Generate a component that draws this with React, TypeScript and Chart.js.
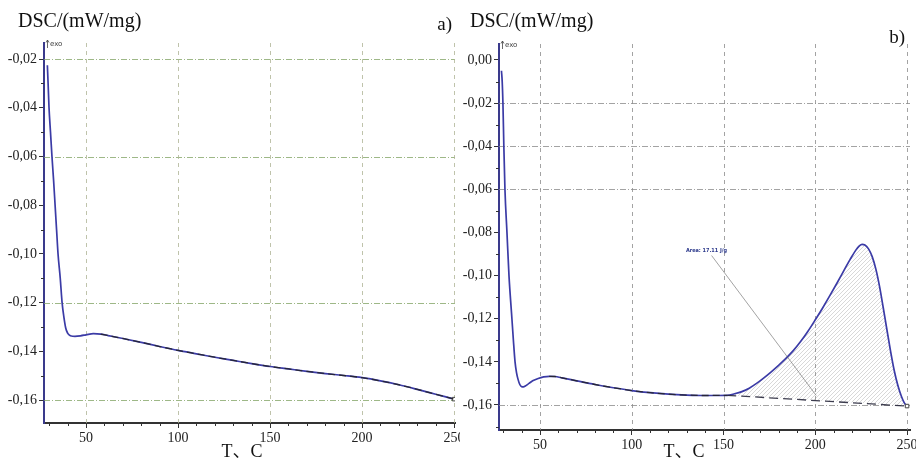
import React, { useEffect, useRef } from 'react';
import { Chart, registerables } from 'chart.js';

Chart.register(...registerables);

// ---------- data ----------
const TEMP_A = [29, 29.4, 29.9, 30.7, 31.5, 32.4, 33.2, 34, 34.8, 36, 37, 38, 39, 40, 41, 42, 44, 47, 50, 54, 58, 62, 70, 80, 90, 100, 110, 120, 130, 140, 150, 160, 170, 180, 190, 200, 210, 220, 230, 240, 250];
const DSC_A = [-0.0225, -0.03, -0.04, -0.05, -0.06, -0.07, -0.08, -0.09, -0.1, -0.11, -0.12, -0.126, -0.1305, -0.1325, -0.1333, -0.1337, -0.1338, -0.1336, -0.1332, -0.1327, -0.1329, -0.1335, -0.1347, -0.1363, -0.138, -0.1396, -0.141, -0.1424, -0.1437, -0.145, -0.1462, -0.1472, -0.1482, -0.1491, -0.1499, -0.1508, -0.1521, -0.1537, -0.1556, -0.1576, -0.1596];

const TEMP_B = [29, 29.4, 29.8, 30.3, 30.9, 32, 33.1, 34.7, 35.5, 36.4, 37.2, 38, 39, 40, 41, 42, 44, 46, 49, 52, 55, 58, 62, 70, 80, 90, 100, 110, 120, 130, 140, 152, 156, 160, 164, 168, 172, 176, 180, 184, 188, 192, 196, 200, 204, 208, 212, 216, 219, 222, 224, 225.5, 227, 229, 231, 233, 235, 237, 239, 241, 243, 245, 247, 248.5, 250];
const DSC_B = [-0.005, -0.01, -0.02, -0.04, -0.06, -0.08, -0.1, -0.12, -0.13, -0.14, -0.145, -0.148, -0.1505, -0.1515, -0.1516, -0.1512, -0.15, -0.1488, -0.1477, -0.147, -0.1467, -0.1468, -0.1474, -0.1488, -0.1505, -0.152, -0.1533, -0.1543, -0.155, -0.1554, -0.1556, -0.1555, -0.1548, -0.1538, -0.1522, -0.15, -0.1474, -0.1446, -0.1416, -0.1384, -0.1348, -0.1306, -0.1258, -0.1205, -0.115, -0.1092, -0.1032, -0.097, -0.0925, -0.0883, -0.0862, -0.0855, -0.0858, -0.0876, -0.0912, -0.097, -0.105, -0.1148, -0.125, -0.135, -0.144, -0.151, -0.1562, -0.159, -0.1605];

const BASE_TEMP_B = [152, 250];
const BASE_DSC_B = [-0.1555, -0.1605];

const X_GRID = [50, 100, 150, 200, 250];
const Y_GRID_A = [-0.02, -0.06, -0.12, -0.16];
const Y_GRID_B = [-0.02, -0.04, -0.06, -0.16];

const AREA_LABEL = 'Area: 17.11 J/g';
const AREA_LABEL_T = 129.5;
const AREA_LABEL_DSC = -0.0885;
const AREA_LEADER_T = [143.5, 200.5];
const AREA_LEADER_DSC = [-0.0907, -0.1556];

const Y_TITLE = 'DSC/(mW/mg)';
const X_TITLE = 'T、C';

const SERIF = '"Liberation Serif", "Times New Roman", "DejaVu Serif", "Noto Sans CJK SC", serif';

type PanelCfg = {
  temps: number[];
  dsc: number[];
  xMin: number; xMax: number; yMin: number; yMax: number;
  padTop: number; padRight: number; yWidth: number; xHeight: number;
  yGrid: number[]; hGridColor: string; vGridColor: string;
  letter: string; letterX: number; letterY: number;
  titleX: number; xTitleX: number;
  overlayFrom: number; overlayTo: number;
  peak: boolean;
};

function toPts(xs: number[], ys: number[]) {
  return xs.map((x, i) => ({ x, y: ys[i] }));
}

function makeHatch(): CanvasPattern | string {
  const c = document.createElement('canvas');
  c.width = 4; c.height = 4;
  const g = c.getContext('2d');
  if (!g) return 'rgba(120,120,120,0.25)';
  g.strokeStyle = 'rgba(110,110,110,0.45)';
  g.lineWidth = 0.6;
  g.beginPath();
  g.moveTo(0, 4); g.lineTo(4, 0);
  g.moveTo(-1, 1); g.lineTo(1, -1);
  g.moveTo(3, 5); g.lineTo(5, 3);
  g.stroke();
  return g.createPattern(c, 'repeat') || 'rgba(120,120,120,0.25)';
}

function buildChart(canvas: HTMLCanvasElement, p: PanelCfg) {
  const mainPts = toPts(p.temps, p.dsc);
  const overlayPts = mainPts.filter((pt) => pt.x >= p.overlayFrom && pt.x <= p.overlayTo);
  const lastIdx = mainPts.length - 1;

  const datasets: any[] = [
    {
      data: mainPts,
      borderColor: '#3b3ba6',
      borderWidth: 1.7,
      cubicInterpolationMode: 'monotone',
      pointRadius: (ctx: any) => (ctx.dataIndex === lastIdx ? 2.5 : 0),
      pointStyle: 'rect',
      pointBackgroundColor: '#ffffff',
      pointBorderColor: '#444',
      pointBorderWidth: 1,
      fill: p.peak ? { target: 2, above: makeHatch(), below: 'rgba(0,0,0,0)' } : false,
      order: 2,
    },
    {
      data: overlayPts,
      borderColor: 'rgba(35,35,35,0.85)',
      borderWidth: 1.3,
      borderDash: [7, 4],
      cubicInterpolationMode: 'monotone',
      pointRadius: 0,
      fill: false,
      order: 1,
    },
  ];
  if (p.peak) {
    datasets.push({
      data: toPts(BASE_TEMP_B, BASE_DSC_B),
      borderColor: 'rgba(40,40,60,0.9)',
      borderWidth: 1.3,
      borderDash: [9, 5],
      pointRadius: 0,
      fill: false,
      order: 1,
    });
  }

  const decor = {
    id: 'decor',
    beforeDatasetsDraw(chart: any) {
      const { ctx, chartArea: a, scales } = chart;
      const xs = scales.x, ys = scales.y;
      ctx.save();
      ctx.beginPath();
      ctx.rect(a.left, a.top - 1, a.right - a.left + 1, a.bottom - a.top + 2);
      ctx.clip();
      ctx.strokeStyle = p.hGridColor;
      ctx.lineWidth = 1;
      ctx.setLineDash([6, 2, 1, 2]);
      p.yGrid.forEach((v) => {
        const y = Math.round(ys.getPixelForValue(v)) + 0.5;
        ctx.beginPath(); ctx.moveTo(a.left, y); ctx.lineTo(a.right, y); ctx.stroke();
      });
      ctx.strokeStyle = p.vGridColor;
      ctx.setLineDash([4, 4]);
      X_GRID.forEach((v) => {
        const x = Math.round(xs.getPixelForValue(v)) + 0.5;
        ctx.beginPath(); ctx.moveTo(x, a.top); ctx.lineTo(x, a.bottom); ctx.stroke();
      });
      ctx.restore();

      ctx.save();
      ctx.strokeStyle = '#333';
      ctx.lineWidth = 1;
      for (let k = Math.ceil(p.yMin / 0.01); k <= Math.floor(p.yMax / 0.01); k++) {
        if (k % 2 === 0) continue;
        const y = Math.round(ys.getPixelForValue(k * 0.01)) + 0.5;
        ctx.beginPath(); ctx.moveTo(a.left - 3, y); ctx.lineTo(a.left, y); ctx.stroke();
      }
      for (let k = Math.ceil(p.xMin / 10); k <= Math.floor(p.xMax / 10); k++) {
        if (k % 5 === 0) continue;
        const x = Math.round(xs.getPixelForValue(k * 10)) + 0.5;
        ctx.beginPath(); ctx.moveTo(x, a.bottom); ctx.lineTo(x, a.bottom + 3); ctx.stroke();
      }
      ctx.restore();
    },
    afterDraw(chart: any) {
      const { ctx, chartArea: a, scales } = chart;
      const xs = scales.x, ys = scales.y;
      ctx.save();
      ctx.fillStyle = '#111';
      ctx.textBaseline = 'middle';
      ctx.font = `20px ${SERIF}`;
      ctx.textAlign = 'left';
      ctx.fillText(Y_TITLE, p.titleX, 22);
      ctx.font = `19px ${SERIF}`;
      ctx.textAlign = 'right';
      ctx.fillText(p.letter, p.letterX, p.letterY);
      ctx.font = `18px ${SERIF}`;
      ctx.textAlign = 'center';
      ctx.fillText(X_TITLE, p.xTitleX, 452);

      const ex = a.left + 3.5;
      ctx.strokeStyle = '#444';
      ctx.lineWidth = 0.8;
      ctx.beginPath();
      ctx.moveTo(ex, a.top + 5); ctx.lineTo(ex, a.top - 3);
      ctx.moveTo(ex - 1.5, a.top - 0.5); ctx.lineTo(ex, a.top - 3); ctx.lineTo(ex + 1.5, a.top - 0.5);
      ctx.stroke();
      ctx.fillStyle = '#444';
      ctx.font = '7px "DejaVu Sans", sans-serif';
      ctx.textAlign = 'left';
      ctx.fillText('exo', ex + 2.5, a.top + 1);

      if (p.peak) {
        ctx.strokeStyle = 'rgba(90,90,90,0.8)';
        ctx.lineWidth = 0.7;
        ctx.setLineDash([]);
        ctx.beginPath();
        ctx.moveTo(xs.getPixelForValue(AREA_LEADER_T[0]), ys.getPixelForValue(AREA_LEADER_DSC[0]));
        ctx.lineTo(xs.getPixelForValue(AREA_LEADER_T[1]), ys.getPixelForValue(AREA_LEADER_DSC[1]));
        ctx.stroke();
        ctx.fillStyle = '#2d3a8c';
        ctx.font = 'bold 5.5px "DejaVu Sans Condensed", "DejaVu Sans", sans-serif';
        ctx.textAlign = 'left';
        ctx.fillText(AREA_LABEL, xs.getPixelForValue(AREA_LABEL_T), ys.getPixelForValue(AREA_LABEL_DSC));
      }
      ctx.restore();
    },
  };

  const tickFont = { family: SERIF, size: 14 };

  return new Chart(canvas, {
    type: 'line',
    data: { datasets },
    plugins: [decor],
    options: {
      responsive: false,
      animation: false,
      events: [],
      layout: { padding: { top: p.padTop, right: p.padRight, left: 0, bottom: 0 } },
      plugins: {
        legend: { display: false },
        tooltip: { enabled: false },
        title: { display: false },
      },
      scales: {
        x: {
          type: 'linear',
          min: p.xMin,
          max: p.xMax,
          afterFit(s: any) { s.height = p.xHeight; s.paddingLeft = 0; s.paddingRight = 0; },
          ticks: {
            stepSize: 50,
            includeBounds: false,
            autoSkip: false,
            maxRotation: 0,
            padding: 2,
            color: '#222',
            font: tickFont,
            callback: (v: any) => String(Math.round(Number(v))),
          },
          grid: { drawOnChartArea: false, drawTicks: true, tickLength: 5, color: '#333' },
          border: { color: '#333', width: 2 },
        },
        y: {
          type: 'linear',
          min: p.yMin,
          max: p.yMax,
          afterFit(s: any) { s.width = p.yWidth; s.paddingTop = 0; s.paddingBottom = 0; },
          ticks: {
            stepSize: 0.02,
            includeBounds: false,
            autoSkip: false,
            padding: 2,
            color: '#222',
            font: tickFont,
            callback: (v: any) => {
              const n = Number(v);
              const s = Math.abs(n) < 1e-9 ? '0.00' : n.toFixed(2);
              return s.replace('.', ',');
            },
          },
          grid: { drawOnChartArea: false, drawTicks: true, tickLength: 5, color: '#333' },
          border: { color: '#3a3a8c', width: 2 },
        },
      },
    } as any,
  });
}

const PANEL_A: PanelCfg = {
  temps: TEMP_A, dsc: DSC_A,
  xMin: 27.17, xMax: 250.5, yMin: -0.1694, yMax: -0.0134,
  padTop: 43, padRight: 5, yWidth: 44, xHeight: 38,
  yGrid: Y_GRID_A, hGridColor: 'rgba(125,160,95,0.75)', vGridColor: 'rgba(175,180,150,0.8)',
  letter: 'a)', letterX: 452, letterY: 25,
  titleX: 18, xTitleX: 242,
  overlayFrom: 55, overlayTo: 250,
  peak: false,
};

const PANEL_B: PanelCfg = {
  temps: TEMP_B, dsc: DSC_B,
  xMin: 27.66, xMax: 251.6, yMin: -0.1716, yMax: 0.0074,
  padTop: 44, padRight: 6, yWidth: 41, xHeight: 31,
  yGrid: Y_GRID_B, hGridColor: 'rgba(140,140,140,0.8)', vGridColor: 'rgba(140,140,140,0.8)',
  letter: 'b)', letterX: 447, letterY: 38,
  titleX: 12, xTitleX: 226,
  overlayFrom: 55, overlayTo: 152,
  peak: true,
};

function Panel({ cfg, left, width }: { cfg: PanelCfg; left: number; width: number }) {
  const ref = useRef<HTMLCanvasElement | null>(null);
  useEffect(() => {
    if (!ref.current) return;
    const chart = buildChart(ref.current, cfg);
    return () => chart.destroy();
  }, [cfg]);
  return (
    <canvas
      ref={ref}
      width={width}
      height={461}
      style={{ position: 'absolute', left, top: 0, width, height: 461 }}
    />
  );
}

export default function App() {
  return (
    <div style={{ position: 'absolute', left: 0, top: 0, width: 916, height: 461, background: '#fff', overflow: 'hidden' }}>
      <Panel cfg={PANEL_A} left={0} width={460} />
      <Panel cfg={PANEL_B} left={458} width={458} />
    </div>
  );
}
